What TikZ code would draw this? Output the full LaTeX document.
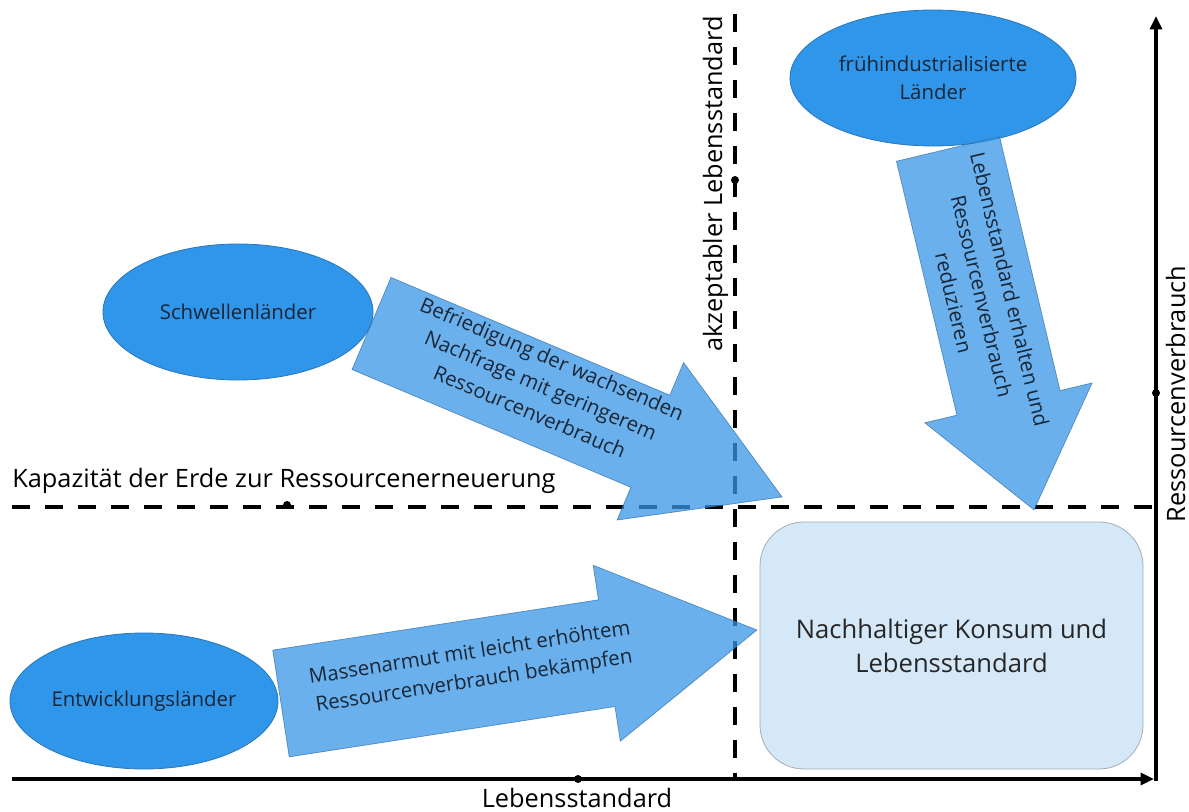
\documentclass[tikz,border=0pt]{standalone}
\usepackage{fontspec}
\setmainfont{Open Sans}
\usetikzlibrary{shapes.geometric,arrows.meta}

\definecolor{landblue}{RGB}{47,150,234}
\definecolor{landedge}{RGB}{40,118,188}
\definecolor{flowblue}{RGB}{55,150,230}
\definecolor{flowedge}{RGB}{45,105,165}
\definecolor{goalfill}{RGB}{213,232,248}
\definecolor{goaledge}{RGB}{165,172,180}
\definecolor{labelink}{RGB}{25,38,55}

\begin{document}
\begin{tikzpicture}[x=0.75pt,y=-0.75pt,
  land/.style={ellipse, fill=landblue, draw=landedge, line width=0.6pt,
    text=labelink, font=\fontsize{15.3}{21}\selectfont, align=center, inner sep=0pt},
  goal/.style={rectangle, rounded corners=33pt, fill=goalfill, draw=goaledge,
    line width=0.6pt, text=black!85, font=\fontsize{19.2}{25.5}\selectfont, align=center,
    minimum width=287.25pt, minimum height=185.25pt},
  flow/.style={fill=flowblue, fill opacity=0.75, draw=flowedge, draw opacity=0.7, line width=0.5pt},
  flowtext/.style={text=labelink, font=\fontsize{15.3}{21.5}\selectfont, align=center, inner sep=0pt},
  limit/.style={line width=3pt, dash pattern=on 13.5pt off 11.25pt},
  axis/.style={line width=2.3pt, -{Triangle[length=10pt,width=9pt]}},
  axislabel/.style={font=\fontsize{19}{23}\selectfont, inner sep=0pt},
  pin/.style={circle, fill=black, inner sep=0pt, minimum size=6pt}
]
\useasboundingbox (0,0) rectangle (1189,812);

% reference lines: renewal capacity and acceptable living standard
\coordinate (hl) at (12,507);
\coordinate (hr) at (1156,507);
\coordinate (vt) at (735,14);
\coordinate (vb) at (735,779);
\draw[limit] (hl) -- (hr);
\draw[limit] (vt) -- (vb);

% axes
\coordinate (o) at (12,779);
\coordinate (xend) at (1154,779);
\coordinate (ybot) at (1156,781);
\coordinate (ytop) at (1156,16);
\draw[axis] (o) -- (xend);
\draw[axis] (ybot) -- (ytop);

% axis and line labels
\node[axislabel, anchor=base west] (cap) at (12,488) {Kapazität der Erde zur Ressourcenerneuerung};
\node[axislabel, anchor=base, rotate=90] (acc) at (722,184) {akzeptabler Lebensstandard};
\node[axislabel, anchor=base, rotate=90] (ylab) at (1185,394) {Ressourcenverbrauch};
\node[axislabel, anchor=base] (xlab) at (577,807) {Lebensstandard};

% midpoint markers
\node[pin] (p1) at (287,505) {};
\node[pin] (p2) at (735,180) {};
\node[pin] (p3) at (1156,393) {};
\node[pin] (p4) at (578,779) {};

% country groups
\node[land, minimum width=214.5pt, minimum height=102pt] (frueh) at (933,78) {frühindustrialisierte\\Länder};
\node[land, minimum width=202.5pt, minimum height=102pt] (schwelle) at (238,312) {Schwellenländer};
\node[land, minimum width=201pt, minimum height=102pt] (entw) at (144,701) {Entwicklungsländer};

% target area
\node[goal] (ziel) at (951.5,645.5) {Nachhaltiger Konsum und\\Lebensstandard};

% block arrows towards the target
\begin{scope}[shift={(281,703.5)}, rotate=8.78]
  \path[flow] (0,-54) -- (329.6,-54) -- (329.6,-89) -- (481.6,0) -- (329.6,89) -- (329.6,54) -- (0,54) -- cycle;
\end{scope}
\begin{scope}[shift={(371.5,323.5)}, rotate=-22.9]
  \path[flow] (0,-50) -- (302.7,-50) -- (302.7,-85.5) -- (445.7,0) -- (302.7,85.5) -- (302.7,50) -- (0,50) -- cycle;
\end{scope}
\begin{scope}[shift={(948,149)}, rotate=-76.6]
  \path[flow] (0,-53) -- (261,-53) -- (261,-86) -- (371,0) -- (261,86) -- (261,53) -- (0,53) -- cycle;
\end{scope}

\node[flowtext, rotate=8.78] (t1) at (472,668) {Massenarmut mit leicht erhöhtem\\Ressourcenverbrauch bekämpfen};
\node[flowtext, rotate=-22.9] (t2) at (541,385) {Befriedigung der wachsenden\\Nachfrage mit geringerem\\Ressourcenverbrauch};
\node[flowtext, rotate=-76.6] (t3) at (982,296) {Lebensstandard erhalten und\\Ressourcenverbrauch\\reduzieren};
\end{tikzpicture}
\end{document}
